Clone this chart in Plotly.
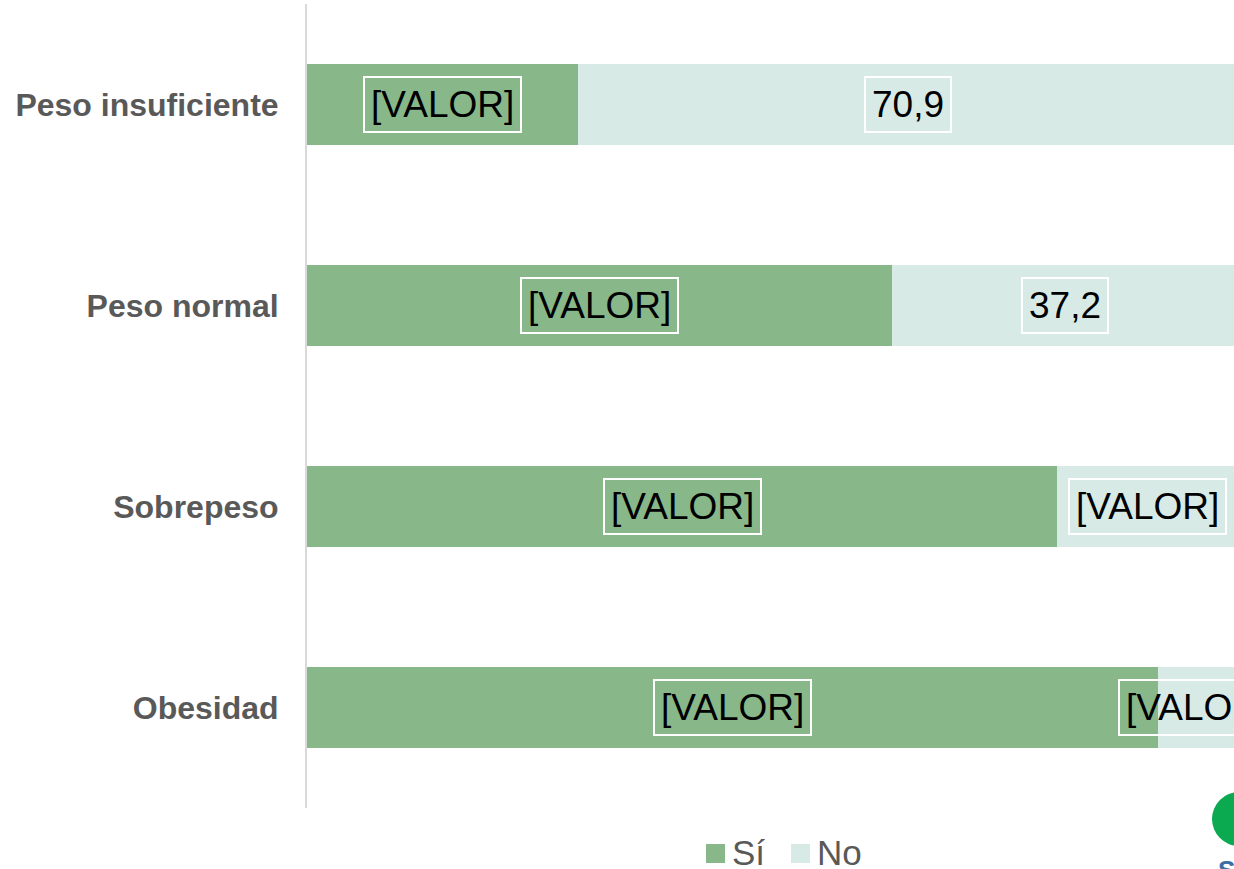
import plotly.graph_objects as go

categories = ["Peso insuficiente", "Peso normal", "Sobrepeso", "Obesidad"]
si_values = [29.1, 62.8, 80.6, 91.4]
no_values = [70.9, 37.2, 19.4, 8.6]
si_labels = ["[VALOR]", "[VALOR]", "[VALOR]", "[VALOR]"]
no_labels = ["70,9", "37,2", "[VALOR]", "[VALOR]"]

SI_COLOR = "#88B88A"
NO_COLOR = "#D8EAE6"
GREY = "#595959"
FONT = "Liberation Sans, Arial, sans-serif"

fig = go.Figure()
fig.add_trace(go.Bar(y=categories, x=si_values, name="Sí", orientation="h",
                     marker=dict(color=SI_COLOR, line=dict(width=0)), showlegend=False))
fig.add_trace(go.Bar(y=categories, x=no_values, name="No", orientation="h",
                     marker=dict(color=NO_COLOR, line=dict(width=0)), showlegend=False))

# data labels with white boxes, centred on each segment
label_style = dict(font=dict(family=FONT, size=37, color="black"), showarrow=False,
                   bordercolor="white", borderwidth=2, borderpad=6,
                   xref="x", yref="y")
for cat, s, n, sl, nl in zip(categories, si_values, no_values, si_labels, no_labels):
    fig.add_annotation(x=s / 2, y=cat, text=sl, **label_style)
    fig.add_annotation(x=s + n / 2, y=cat, text=nl, **label_style)

# legend drawn by hand (bigger squares than plotly's default)
legend_items = [("Sí", SI_COLOR, 706), ("No", NO_COLOR, 791)]
for name, color, px in legend_items:
    fig.add_shape(type="rect", xref="paper", yref="paper",
                  x0=(px - 307) / 927, x1=(px + 19 - 307) / 927,
                  y0=(808 - 863) / 804, y1=(808 - 844) / 804,
                  fillcolor=color, line=dict(width=0))
    fig.add_annotation(x=(px + 24 - 307) / 927, y=(808 - 852) / 804, xref="paper", yref="paper",
                       text=name, showarrow=False, xanchor="left", yanchor="middle",
                       font=dict(family=FONT, size=35, color=GREY))

# partial logo cut at the right edge
fig.add_shape(type="circle", xref="paper", yref="paper",
              x0=(1212 - 307) / 927, x1=(1266 - 307) / 927,
              y0=(808 - 846) / 804, y1=(808 - 792) / 804,
              fillcolor="#0BAA50", line=dict(width=0))
fig.add_annotation(x=(1216 - 307) / 927, y=(808 - 853) / 804, xref="paper", yref="paper",
                   text="<b>S</b>", showarrow=False, xanchor="left", yanchor="top",
                   font=dict(family=FONT, size=26, color="#3B6EA5"))

fig.update_layout(
    barmode="stack",
    bargap=0.6,
    width=1234,
    height=869,
    margin=dict(l=307, r=0, t=4, b=61),
    plot_bgcolor="white",
    paper_bgcolor="white",
    font=dict(family=FONT),
    xaxis=dict(range=[0, 99.57], visible=False, showgrid=False, zeroline=False),
    yaxis=dict(autorange="reversed", showline=True, linecolor="#D9D9D9", linewidth=2,
               showgrid=False, ticks="", ticklabelstandoff=20,
               tickfont=dict(family=FONT, size=32, color=GREY, weight="bold")),
)

fig.write_html("out.html", config={"displayModeBar": False},
               post_script="document.body.style.margin='0';document.body.style.overflow='hidden';")
